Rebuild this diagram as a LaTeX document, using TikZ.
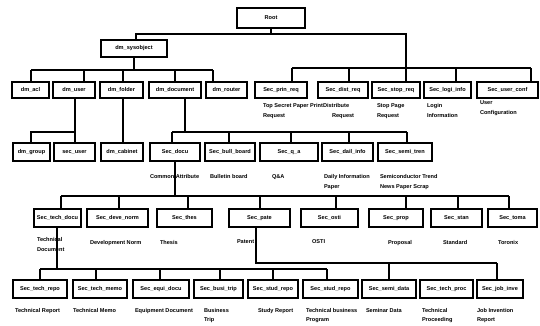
\documentclass[tikz,border=0pt]{standalone}
\usepackage{fontspec}
\setmainfont{Liberation Sans}
\newcommand\lbl{\fontsize{5.6}{10}\selectfont\bfseries}
\newcommand\lblb{\fontsize{5.6}{8.8}\selectfont\bfseries}
\tikzset{
  box/.style={draw, line width=1.3pt, inner sep=0pt, outer sep=0pt, font=\lbl, fill=white},
  lab/.style={inner sep=0pt, outer sep=0pt, anchor=north west, align=left, font=\lbl},
  labb/.style={lab, font=\lblb},
  conn/.style={line width=1.1pt},
}
\newcommand\mkbox[6]{%
  \pgfmathsetmacro\bw{#3-#2}\pgfmathsetmacro\bh{#5-#4}%
  \node[box,minimum width=\bw pt,minimum height=\bh pt] (#1) at ({(#2+#3)/2},{(#4+#5)/2}) {#6};}
\begin{document}
\begin{tikzpicture}[x=1pt,y=-1pt]
\fill[white] (0,0) rectangle (540,325);
\useasboundingbox (0,0) rectangle (540,325);
% boxes
\mkbox{root}{237}{305}{8}{28}{Root}
\mkbox{dmsys}{101}{167}{40}{57}{dm\_sysobject}
\mkbox{dmacl}{12}{49}{82}{98}{dm\_acl}
\mkbox{dmuser}{53}{95}{82}{98}{dm\_user}
\mkbox{dmfolder}{100}{143}{82}{98}{dm\_folder}
\mkbox{dmdocument}{149}{201}{82}{98}{dm\_document}
\mkbox{dmrouter}{206}{247}{82}{98}{dm\_router}
\mkbox{secprinreq}{255}{307}{82}{98}{Sec\_prin\_req}
\mkbox{secdistreq}{318}{368}{82}{98}{Sec\_dist\_req}
\mkbox{secstopreq}{372}{420}{82}{98}{Sec\_stop\_req}
\mkbox{seclogiinfo}{424}{471}{82}{98}{Sec\_logi\_info}
\mkbox{secuserconf}{477}{538}{82}{98}{Sec\_user\_conf}
\mkbox{dmgroup}{13}{50}{143}{161}{dm\_group}
\mkbox{secuser}{54}{95}{143}{161}{sec\_user}
\mkbox{dmcabinet}{101}{143}{143}{161}{dm\_cabinet}
\mkbox{secdocu}{150}{200}{143}{161}{Sec\_docu}
\mkbox{secbullboard}{205}{255}{143}{161}{Sec\_bull\_board}
\mkbox{secqa}{260}{318}{143}{161}{Sec\_q\_a}
\mkbox{secdailinfo}{322}{373}{143}{161}{Sec\_dail\_info}
\mkbox{secsemitren}{378}{432}{143}{161}{Sec\_semi\_tren}
\mkbox{sectechdocu}{34}{81}{209}{227}{Sec\_tech\_docu}
\mkbox{secdevenorm}{87}{148}{209}{227}{Sec\_deve\_norm}
\mkbox{secthes}{157}{212}{209}{227}{Sec\_thes}
\mkbox{secpate}{229}{290}{209}{227}{Sec\_pate}
\mkbox{secosti}{301}{358}{209}{227}{Sec\_osti}
\mkbox{secprop}{369}{423}{209}{227}{Sec\_prop}
\mkbox{secstan}{431}{482}{209}{227}{Sec\_stan}
\mkbox{sectoma}{488}{537}{209}{227}{Sec\_toma}
\mkbox{sectechrepo}{13}{67}{280}{298}{Sec\_tech\_repo}
\mkbox{sectechmemo}{73}{127}{280}{298}{Sec\_tech\_memo}
\mkbox{secequidocu}{133}{189}{280}{298}{Sec\_equi\_docu}
\mkbox{secbusitrip}{194}{243}{280}{298}{Sec\_busi\_trip}
\mkbox{secstudrepo}{248}{298}{280}{298}{Sec\_stud\_repo}
\mkbox{secstudrepob}{303}{358}{280}{298}{Sec\_stud\_repo}
\mkbox{secsemidata}{362}{416}{280}{298}{Sec\_semi\_data}
\mkbox{sectechproc}{420}{473}{280}{298}{Sec\_tech\_proc}
\mkbox{secjobinve}{477}{523}{280}{298}{Sec\_job\_inve}
% connectors
\coordinate (rbL) at (136,34);
\coordinate (rbR) at (406,34);
\draw[conn] (root.south) -- (root.south |- rbL);
\draw[conn] (dmsys.north -| rbL) -- (rbL) -- (rbR) -- (rbR |- secstopreq.north);
\draw[conn] (292,68) -- (531,68);
\foreach \x/\n in {292/secprinreq,349/secdistreq,456/seclogiinfo,531/secuserconf}
  \draw[conn] (\x,68) -- (\n.north -| \x,68);
\draw[conn] (dmsys.south) -- (dmsys.south |- 0,70);
\draw[conn] (31,70) -- (213,70);
\foreach \x/\n in {31/dmacl,84/dmuser,123/dmfolder,175/dmdocument,213/dmrouter}
  \draw[conn] (\x,70) -- (\n.north -| \x,70);
\draw[conn] (dmuser.south -| 75,0) -- (secuser.north -| 75,0);
\draw[conn] (75,132) -- (31,132) -- (dmgroup.north -| 31,0);
\draw[conn] (dmfolder.south -| 123,0) -- (dmcabinet.north -| 123,0);
\draw[conn] (dmdocument.south -| 185,0) -- (185,132);
\draw[conn] (172,132) -- (407,132);
\foreach \x/\n in {172/secdocu,229/secbullboard,291/secqa,349/secdailinfo,407/secsemitren}
  \draw[conn] (\x,132) -- (\n.north -| \x,132);
\draw[conn] (secdocu.south -| 175,0) -- (175,196);
\draw[conn] (61,196) -- (509,196);
\foreach \x/\n in {61/sectechdocu,119/secdevenorm,188/secthes,260/secpate,336/secosti,406/secprop,458/secstan,509/sectoma}
  \draw[conn] (\x,196) -- (\n.north -| \x,196);
\draw[conn] (sectechdocu.south -| 57,0) -- (57,269);
\draw[conn] (40,269) -- (327,269);
\foreach \x/\n in {40/sectechrepo,96/sectechmemo,160/secequidocu,220/secbusitrip,273/secstudrepo,327/secstudrepob}
  \draw[conn] (\x,269) -- (\n.north -| \x,269);
\draw[conn] (secpate.south -| 256,0) -- (256,263) -- (497,263);
\foreach \x/\n in {389/secsemidata,497/secjobinve}
  \draw[conn] (\x,263) -- (\n.north -| \x,263);
% labels
\node[lab] (lprin) at (263,103.5) {Top Secret Paper Print\\Request};
\node[lab] (ldist) at (323,103.5) {Distribute\\\hspace*{9pt}Request};
\node[lab] (lstop) at (377,103.5) {Stop Page\\Request};
\node[lab] (llogi) at (427,103.5) {Login\\Information};
\node[lab] (luser) at (480,101) {User\\Configuration};
\node[lab] (ldocu) at (150,174.5) {Common Attribute};
\node[lab] (lbull) at (210,174.5) {Bulletin board};
\node[lab] (lqa) at (272,174.5) {Q\&A};
\node[lab] (ldail) at (324,174.5) {Daily Information\\Paper};
\node[lab] (lsemi) at (380,174.5) {Semiconductor Trend\\News Paper Scrap};
\node[lab] (ltech) at (37,237) {Technical\\Document};
\node[lab] (ldeve) at (90,240) {Development Norm};
\node[lab] (lthes) at (160,240) {Thesis};
\node[lab] (lpate) at (237,240) {Patent};
\node[lab] (losti) at (312,240) {OSTI};
\node[lab] (lprop) at (388,240) {Proposal};
\node[lab] (lstan) at (443,240) {Standard};
\node[lab] (ltoma) at (498,240) {Toronix};
\node[labb] (lrepo) at (15,308.5) {Technical Report};
\node[labb] (lmemo) at (73,308.5) {Technical Memo};
\node[labb] (lequi) at (135,308.5) {Equipment Document};
\node[labb] (lbusi) at (204,308.5) {Business\\Trip};
\node[labb] (lstud) at (258,308.5) {Study Report};
\node[labb] (lstudb) at (306,308.5) {Technical business\\Program};
\node[labb] (lsemid) at (366,308.5) {Seminar Data};
\node[labb] (lproc) at (422,308.5) {Technical\\Proceeding};
\node[labb] (ljob) at (477,308.5) {Job Invention\\Report};
\end{tikzpicture}
\end{document}
